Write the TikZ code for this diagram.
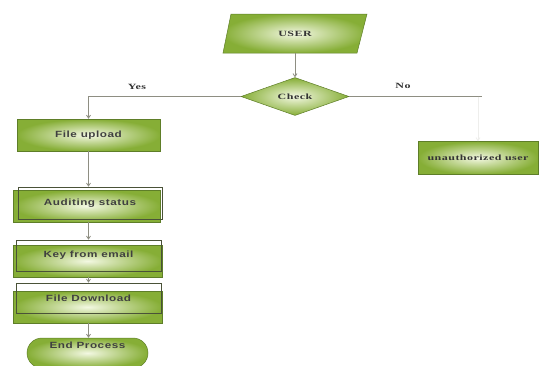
\documentclass[tikz,border=0pt]{standalone}
\usepackage{fontspec}
\setmainfont{Liberation Serif}
\newfontfamily\boxfont[FakeStretch=1.3,LetterSpace=6]{Liberation Sans}
\newfontfamily\sfont[FakeStretch=1.5,LetterSpace=6]{Liberation Serif}
\usetikzlibrary{shapes.geometric,shapes.misc,arrows.meta}
\definecolor{gdark}{HTML}{86AE36}
\definecolor{glight}{HTML}{F3F8E2}
\definecolor{gline}{HTML}{5E7E28}
\definecolor{oline}{HTML}{4A5238}
\definecolor{conn}{HTML}{8E8E82}
\begin{document}
\begin{tikzpicture}[x=1pt,y=-1pt,
  gfill/.style={shading=radial, inner color=glight, outer color=gdark, draw=gline, line width=0.5pt},
  plainbox/.style={rectangle, inner sep=0pt, gfill, minimum width=#1},
  outline/.style={rectangle, inner sep=0pt, draw=oline, line width=0.6pt},
  boxtext/.style={font=\boxfont\bfseries\fontsize{9}{10}\selectfont, text=black!75},
  sertext/.style={font=\sfont\bfseries\fontsize{8}{9}\selectfont, text=black!80},
  conn/.style={draw=conn, line width=0.8pt},
  arr/.style={conn, -{Straight Barb[length=3pt,width=4pt]}}
]
\useasboundingbox (0,0) rectangle (539,365);

% USER parallelogram
\shade[gfill] (223,53) -- (231,14) -- (367,14) -- (357,53) -- cycle;
\node[sertext, minimum width=134pt, minimum height=39pt, inner sep=0pt] (user) at (295,33.5) {USER};

% Check diamond
\node[diamond, gfill, aspect=2.85, minimum width=108pt, minimum height=38pt, inner sep=0pt, sertext] (chk) at (295,96.5) {Check};

% File upload
\node[plainbox=143pt, minimum height=32pt, boxtext] (up) at (88.5,135) {File upload};

% Auditing status
\node[plainbox=147pt, minimum height=32pt] (audf) at (86.5,206) {};
\node[outline, minimum width=144pt, minimum height=32pt, boxtext] (aud) at (90,203) {Auditing status};

% Key from email
\node[plainbox=149pt, minimum height=32pt] (keyf) at (87.5,261) {};
\node[outline, minimum width=145pt, minimum height=31pt, boxtext] (key) at (88.5,255.5) {Key from email};

% File Download
\node[plainbox=149pt, minimum height=32pt] (dlf) at (87.5,307) {};
\node[outline, minimum width=145pt, minimum height=30pt, boxtext] (dl) at (88.5,298) {File Download};

% End Process
\node[rounded rectangle, gfill, minimum width=121pt, minimum height=30pt, inner sep=0pt] (endp) at (87.5,353) {};
\node[boxtext, anchor=center] (endt) at (endp.center |- 0,345) {End Process};

% unauthorized user
\node[plainbox=120pt, minimum height=33pt, sertext] (un) at (478,158) {unauthorized user};

% connectors
\draw[arr] (user.south) -- (chk.north);
\draw[arr] (chk.west) -| (up.north);
\node[sertext] (yes) at (137,87) {Yes};
\coordinate (nocorner) at (un.north |- chk.east);
\draw[conn] (chk.east) -- ([xshift=4pt]nocorner);
\node[sertext] (no) at (403,86) {No};
\draw[conn, draw=conn!15, -{Straight Barb[length=3pt,width=4pt]}] (nocorner) -- (un.north);
\draw[arr] (up.south) -- (up.south |- aud.north);
\draw[arr] (up.south |- audf.south) -- (up.south |- key.north);
\draw[arr] (up.south |- keyf.south) -- (up.south |- dl.north);
\draw[arr] (up.south |- dlf.south) -- (up.south |- endp.north);
\end{tikzpicture}
\end{document}
